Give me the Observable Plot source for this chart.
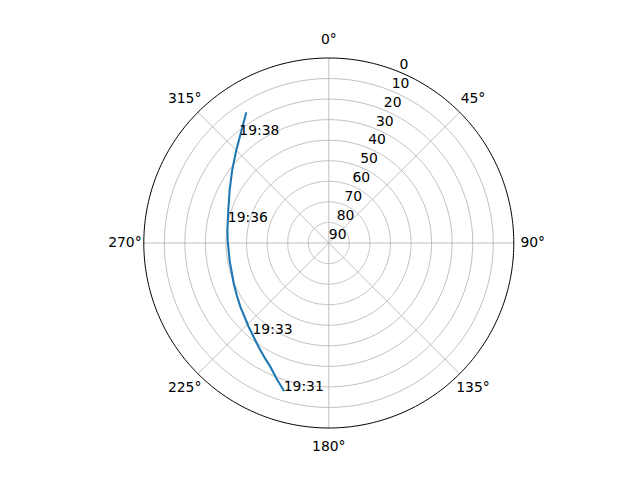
<!DOCTYPE html>
<html>
<head>
<meta charset="utf-8">
<script src="https://cdn.jsdelivr.net/npm/d3@7"></script>
<script src="https://cdn.jsdelivr.net/npm/@observablehq/plot@0.6"></script>
<style>
  html, body { margin: 0; padding: 0; background: #fff; }
</style>
</head>
<body>
<div id="chart"></div>
<script>
// Satellite pass: azimuth (deg, clockwise from north) and elevation (deg)
const azimuth   = [197.0, 205.1, 213.9, 223.5, 234.0, 246.8, 260.0, 271.4, 277.0, 287.9, 297.9, 306.9, 315.0, 322.2, 327.5];
const elevation = [15.0, 23.3, 28.9, 33.5, 36.9, 39.7, 41.0, 40.8, 40.3, 38.6, 35.4, 31.2, 26.3, 20.7, 15.1];

// Time annotations along the pass
const labelTimes = ["19:31", "19:33", "19:36", "19:38"];
const labelAz    = [197.0, 220.1, 282.0, 320.5];
const labelEl    = [15.0, 32.4, 39.8, 21.6];

// Axis ticks
const radialTicks = [0, 10, 20, 30, 40, 50, 60, 70, 80, 90];
const angleTicks  = [0, 45, 90, 135, 180, 225, 270, 315];
const angleLabels = ["0°", "45°", "90°", "135°", "180°", "225°", "270°", "315°"];

const track = azimuth.map((az, i) => ({az, el: elevation[i]}));
const lon = (az) => 180 - az; // north up, clockwise
const font = "DejaVu Sans";

const chart = Plot.plot({
  width: 640,
  height: 480,
  marginLeft: 143.3,
  marginRight: 126.7,
  marginTop: 57.5,
  marginBottom: 52.5,
  style: {fontFamily: font, fontSize: "13.9px", background: "white", color: "black"},
  projection: {
    type: "azimuthal-equidistant",
    rotate: [0, -90],
    domain: d3.geoCircle().center([0, 90]).radius(90)(),
    clip: false
  },
  marks: [
    // elevation rings
    Plot.geo(radialTicks.filter((d) => d > 0 && d < 90), {
      geometry: (el) => d3.geoCircle().center([0, 90]).radius(90 - el).precision(1)(),
      stroke: "#b0b0b0", strokeWidth: 0.8, fill: "none"
    }),
    // azimuth spokes
    Plot.link(angleTicks, {
      x1: (a) => lon(a), y1: 90, x2: (a) => lon(a), y2: 0,
      stroke: "#b0b0b0", strokeWidth: 0.8
    }),
    // pass track
    Plot.line(track, {x: (d) => lon(d.az), y: "el", stroke: "#1f77b4", strokeWidth: 2.1}),
    // outer spine
    Plot.geo(d3.geoCircle().center([0, 90]).radius(90).precision(1)(), {stroke: "black", strokeWidth: 1, fill: "none"}),
    // radial tick labels
    Plot.text(radialTicks, {
      x: lon(22.5), y: (d) => d, text: (d) => String(d),
      textAnchor: "start", dy: -8, fontSize: 13.9, fontFamily: font, fill: "black"
    }),
    // angle tick labels
    Plot.text(angleTicks, {
      x: (a) => lon(a), y: -9.2, text: (a, i) => angleLabels[i],
      textAnchor: "middle", fontSize: 13.9, fontFamily: font, fill: "black"
    }),
    // time annotations
    Plot.text(labelTimes, {
      x: (d, i) => lon(labelAz[i]), y: (d, i) => labelEl[i], text: (d) => d,
      textAnchor: "start", dy: -4, fontSize: 13.9, fontFamily: font, fill: "black"
    })
  ]
});

document.getElementById("chart").append(chart);
</script>
</body>
</html>
